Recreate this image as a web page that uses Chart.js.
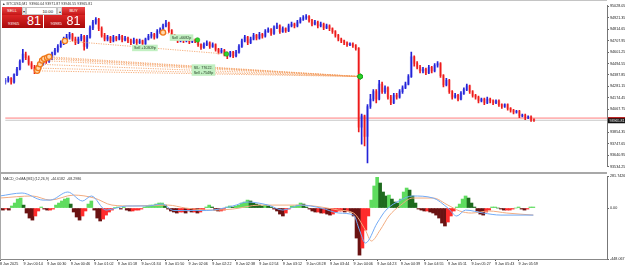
<!DOCTYPE html>
<html><head><meta charset="utf-8">
<script src="https://cdn.jsdelivr.net/npm/chart.js@4.4.1/dist/chart.umd.min.js"></script>
<style>
html,body{margin:0;padding:0;background:#fff;width:625px;height:268px;overflow:hidden;font-family:"Liberation Sans",Arial,sans-serif;}
#wrap{position:relative;width:625px;height:268px;}
canvas{position:absolute;left:0;}
.ln{position:absolute;z-index:3;}
.otp{position:absolute;left:2px;top:7px;width:83px;height:21px;z-index:6;}
.b{position:absolute;box-sizing:border-box;overflow:hidden;white-space:nowrap;}
.red1{background:linear-gradient(#ee4848,#c41616);color:#fff;font-size:4px;line-height:8px;text-align:center;}
.gr{background:#eeeeee;border:0.5px solid #c4c4c4;color:#333;font-size:4px;line-height:7px;text-align:center;}
.red2{background:linear-gradient(#dc2626,#a80a0a);}
.sm{position:absolute;font-size:4px;color:#fff;top:6px;}
.bg{position:absolute;font-size:12.5px;color:#fff;top:0px;line-height:13px;}
</style></head><body>
<div id="wrap">
<canvas id="main" width="625" height="172" style="top:0"></canvas>
<canvas id="macd" width="625" height="94" style="top:174px"></canvas>
<div class="ln" style="left:0;top:0;width:607px;height:1px;background:#c4c4c4"></div>
<div class="ln" style="left:0;top:0;width:1px;height:260px;background:#a8a8a8"></div>
<div class="ln" style="left:0;top:172px;width:607px;height:2px;background:#a8a8a8"></div>
<div class="otp">
  <div class="b red1" style="left:0;top:0;width:20px;height:8px">SELL</div>
  <div class="b gr" style="left:20px;top:0;width:4px;height:8px">▾</div>
  <div class="b" style="left:24px;top:0;width:31px;height:8px;background:#fff;border:0.5px solid #c4c4c4;font-size:4.2px;line-height:7px;text-align:right;padding-right:3px;color:#111">10.00</div>
  <div class="b gr" style="left:55px;top:0;width:5px;height:8px">▴</div>
  <div class="b red1" style="left:60px;top:0;width:23px;height:8px">BUY</div>
  <div class="b red2" style="left:0;top:8px;width:41px;height:13px"><span class="sm" style="left:6px">93965</span><span class="bg" style="left:25px">81</span></div>
  <div class="b red2" style="left:41.5px;top:8px;width:41.5px;height:13px"><span class="sm" style="left:7px">93985</span><span class="bg" style="left:23px">81</span></div>
</div>
</div>
<script>
const timeLabels = ["8 Jan 2025","9 Jan 00:14","9 Jan 00:30","9 Jan 00:46","9 Jan 01:02","9 Jan 01:18","9 Jan 01:34","9 Jan 01:50","9 Jan 02:06","9 Jan 02:22","9 Jan 02:38","9 Jan 02:54","9 Jan 03:12","9 Jan 03:28","9 Jan 03:44","9 Jan 04:06","9 Jan 04:23","9 Jan 04:39","9 Jan 04:55","9 Jan 05:11","9 Jan 05:27","9 Jan 05:43","9 Jan 05:59"];
const priceTicks = [95028.05,94921.35,94814.65,94707.95,94601.25,94494.55,94387.85,94281.15,94174.45,94067.75,93961.05,93854.35,93747.65,93640.95,93534.25];
const macdTicks = [281.7426, 0, -448.067];
const macdTickText = ["281.7426","0.00","-448.067"];
const headerText = "BTCUSD,M1  93960.04 93971.87 93946.55 93965.81";
const macdTitle = "MACD_OsMA [M1] (12,26,9)  -44.6182  -68.2986";
const bidPrice = 93965.81, askPrice = 93985.81;

const opens = [94321,94338,94356,94321,94391,94443,94513,94583,94548,94495,
 94460,94426,94460,94495,94530,94513,94548,94583,94618,94653,
 94688,94722,94740,94766,94722,94688,94722,94749,94653,94740,
 94827,94880,94906,94819,94757,94722,94740,94705,94740,94722,
 94749,94714,94731,94705,94688,94714,94688,94705,94679,94722,
 94749,94766,94740,94792,94810,94845,94871,94801,94749,94731,
 94705,94722,94705,94722,94696,94714,94705,94670,94644,94670,
 94688,94653,94670,94626,94600,94618,94583,94565,94600,94565,
 94600,94653,94705,94740,94688,94722,94757,94731,94766,94749,
 94792,94810,94775,94827,94845,94792,94819,94801,94845,94862,
 94845,94880,94906,94923,94932,94897,94862,94880,94845,94862,
 94827,94845,94819,94792,94757,94722,94705,94688,94670,94679,
 94661,94635,93901,94006,93814,94094,94163,94233,94163,94303,
 94233,94268,94181,94128,94198,94181,94233,94268,94303,94373,
 94557,94495,94460,94426,94443,94408,94460,94426,94478,94495,
 94382,94294,94338,94233,94181,94198,94163,94216,94251,94286,
 94233,94198,94181,94146,94163,94128,94163,94146,94128,94146,
 94111,94094,94111,94076,94059,94041,94050,94006,94015,93989,
 93997,93971];
const highs = [94356,94373,94364,94399,94460,94530,94626,94600,94565,94513,
 94478,94478,94513,94548,94548,94565,94600,94635,94670,94705,
 94740,94766,94784,94775,94740,94740,94766,94757,94757,94845,
 94897,94923,94915,94836,94775,94757,94749,94757,94749,94766,
 94757,94749,94740,94722,94731,94722,94722,94714,94731,94766,
 94784,94775,94810,94827,94862,94897,94880,94810,94766,94740,
 94731,94731,94740,94731,94722,94722,94714,94679,94688,94705,
 94696,94688,94679,94635,94635,94626,94600,94609,94609,94618,
 94670,94722,94757,94749,94740,94775,94766,94784,94775,94810,
 94827,94819,94845,94871,94854,94836,94827,94862,94880,94871,
 94897,94923,94941,94950,94941,94906,94897,94889,94880,94871,
 94862,94854,94827,94801,94766,94731,94714,94696,94688,94688,
 94670,94644,94024,94015,94111,94207,94251,94251,94338,94321,
 94286,94277,94198,94216,94216,94251,94286,94321,94391,94600,
 94565,94513,94478,94460,94452,94478,94469,94495,94513,94504,
 94391,94356,94347,94242,94216,94207,94233,94268,94303,94294,
 94242,94207,94190,94172,94172,94181,94172,94155,94155,94155,
 94120,94120,94120,94085,94067,94059,94059,94024,94024,94006,
 94006,93980];
const lows = [94303,94321,94303,94312,94382,94434,94504,94530,94478,94443,
 94399,94408,94452,94478,94495,94504,94530,94574,94600,94644,
 94670,94705,94722,94705,94670,94679,94705,94618,94635,94731,
 94810,94862,94801,94740,94705,94705,94688,94696,94705,94714,
 94696,94705,94688,94670,94679,94670,94679,94661,94670,94714,
 94731,94722,94731,94775,94801,94836,94784,94731,94714,94688,
 94696,94688,94696,94679,94688,94688,94653,94626,94635,94661,
 94635,94644,94609,94583,94591,94565,94539,94557,94548,94557,
 94591,94644,94696,94670,94679,94714,94714,94722,94731,94740,
 94784,94757,94766,94819,94775,94784,94784,94792,94836,94827,
 94836,94871,94897,94906,94880,94845,94854,94827,94836,94810,
 94819,94801,94775,94740,94705,94688,94670,94653,94661,94644,
 94618,93858,93744,93727,93569,94076,94146,94128,94155,94216,
 94216,94163,94111,94120,94163,94172,94216,94259,94294,94364,
 94469,94443,94408,94408,94391,94399,94408,94417,94460,94364,
 94277,94286,94216,94163,94172,94146,94155,94207,94242,94216,
 94181,94163,94128,94137,94111,94120,94128,94111,94120,94094,
 94076,94085,94059,94041,94024,94032,93989,93997,93971,93980,
 93954,93954];
const closes = [94338,94356,94321,94391,94443,94513,94583,94548,94495,94460,
 94426,94460,94495,94530,94513,94548,94583,94618,94653,94688,
 94722,94740,94766,94722,94688,94722,94749,94653,94740,94827,
 94880,94906,94819,94757,94722,94740,94705,94740,94722,94749,
 94714,94731,94705,94688,94714,94688,94705,94679,94722,94749,
 94766,94740,94792,94810,94845,94871,94801,94749,94731,94705,
 94722,94705,94722,94696,94714,94705,94670,94644,94670,94688,
 94653,94670,94626,94600,94618,94583,94565,94600,94565,94600,
 94653,94705,94740,94688,94722,94757,94731,94766,94749,94792,
 94810,94775,94827,94845,94792,94819,94801,94845,94862,94845,
 94880,94906,94923,94932,94897,94862,94880,94845,94862,94827,
 94845,94819,94792,94757,94722,94705,94688,94670,94679,94661,
 94635,93901,94006,93814,94094,94163,94233,94163,94303,94233,
 94268,94181,94128,94198,94181,94233,94268,94303,94373,94557,
 94495,94460,94426,94443,94408,94460,94426,94478,94495,94382,
 94294,94338,94233,94181,94198,94163,94216,94251,94286,94233,
 94198,94181,94146,94163,94128,94163,94146,94128,94146,94111,
 94094,94111,94076,94059,94041,94050,94006,94015,93989,93997,
 93971,93966];

const histValues = [-9,-18,-9,-18,18,44,79,88,26,-44,
 -88,-106,-70,-26,9,-9,-18,-18,-9,26,
 44,62,79,88,35,-35,-79,-106,-70,-26,
 35,62,-18,-88,-114,-97,-62,-35,-18,5,
 9,-9,9,-18,-26,-26,-18,-18,-9,9,
 18,26,26,35,44,44,26,-9,-26,-35,
 -44,-35,-35,-44,-26,-35,-35,-44,-35,-18,
 9,26,9,-18,-26,-26,-18,9,18,9,
 18,26,44,53,70,62,44,35,26,18,
 26,18,9,-9,-26,-53,-70,-44,-9,18,
 18,26,44,35,9,-9,-26,-35,-35,-44,
 -44,-53,-62,-53,-35,-26,-26,-35,-26,-35,
 -70,-264,-414,-352,-194,-70,70,194,270,220,
 141,106,114,79,53,44,79,141,176,158,
 106,44,-9,-18,-26,-26,-35,-44,-62,-88,
 -132,-158,-123,-70,-26,9,35,79,106,88,
 44,9,-26,-53,-62,-35,-18,9,9,0,
 -9,-18,-18,-18,-9,0,9,-9,-18,-9,
 9,9];
const macdX = [0,7.5,14.6,17,23,28,31,36,43,50,55,59,70,79,84,91,96,102,109,115,120,122,124,128,131,136,140,147,152,155,158,164,170,181];
const macdY = [106,132,70,70,141,62,106,-18,18,18,35,-22,-22,18,53,26,-18,26,0,-44,-62,-194,-308,-132,-18,70,106,88,0,-70,-18,-44,-62,-62];
const signalX = [0,11,17,25,32,38,45,57,63,72,79,88,102,109,115,120,124,126,129,132,136,140,147,152,156,160,166,172,181];
const signalY = [88,106,70,114,88,26,18,26,0,-18,-9,26,26,9,-18,-44,-194,-290,-194,-70,26,88,88,26,-26,-44,-26,-44,-62];

const tradeEntryIdx = [10.9,11.3,11.9,12.6,13.3,14.3,15.0,20.4,54.0];
const tradeEntryPrice = [94426,94452,94487,94522,94539,94548,94557,94705,94784];
const tradeExitIdx = [121.5,121.5,121.5,121.5,121.5,121.5,121.5,75.7,65.8];
const tradeExitPrice = [94373,94373,94373,94373,94373,94373,94373,94583,94714];
const tradeLabelIdx = [43.4,56.3,63.8];
const tradeLabelPrice = [94670,94766,94487];
const tradeLabelText = [["Sell +10309p"],["Sell +6682p"],["S/L: 77622.","Sell +7548p"]];

const X_MAX = 206;
const FONT = "Liberation Sans";
const idx = closes.map((_, i) => i);
const isBull = i => closes[i] >= opens[i];

const mainOverlay = {
  id: 'mainOverlay',
  beforeDatasetsDraw(chart) {
    const {ctx, chartArea: a, scales: {y}} = chart;
    ctx.save();
    const ya = y.getPixelForValue(askPrice), yb = y.getPixelForValue(bidPrice);
    ctx.strokeStyle = '#ffb4b4'; ctx.lineWidth = 1.6;
    ctx.beginPath(); ctx.moveTo(a.left, ya); ctx.lineTo(a.right, ya); ctx.stroke();
    ctx.strokeStyle = '#c8c8c8'; ctx.lineWidth = 1;
    ctx.beginPath(); ctx.moveTo(a.left, yb); ctx.lineTo(a.right, yb); ctx.stroke();
    ctx.restore();
  },
  afterDatasetsDraw(chart) {
    const {ctx, scales: {x, y}} = chart;
    ctx.save();
    ctx.font = `3.7px "${FONT}"`;
    ctx.textBaseline = 'middle';
    tradeLabelText.forEach((lines, k) => {
      const px = x.getPixelForValue(tradeLabelIdx[k]);
      const py = y.getPixelForValue(tradeLabelPrice[k]);
      const w = Math.max(...lines.map(t => ctx.measureText(t).width)) + 4;
      const h = lines.length * 5 + 1.5;
      ctx.fillStyle = '#c2f0c2';
      ctx.fillRect(px, py, w, h);
      ctx.fillStyle = '#1f3a1f';
      lines.forEach((t, j) => ctx.fillText(t, px + 2, py + 3.3 + j * 5));
    });
    ctx.fillStyle = '#333';
    ctx.font = `3.6px "${FONT}"`;
    ctx.fillText('▲ ' + headerText, 2, 3.5);
    ctx.restore();
  },
  afterDraw(chart) {
    const {ctx, chartArea: a, scales: {y}} = chart;
    const yb = y.getPixelForValue(bidPrice);
    ctx.save();
    ctx.fillStyle = '#111';
    ctx.fillRect(a.right + 1, yb - 3, 18, 6);
    ctx.fillStyle = '#e01818';
    ctx.fillRect(a.right + 1, yb - 3, 18, 1);
    ctx.fillStyle = '#fff';
    ctx.font = `3.6px "${FONT}"`;
    ctx.textBaseline = 'middle';
    ctx.fillText(bidPrice.toFixed(2), a.right + 2.5, yb + 0.5);
    ctx.restore();
  }
};

const tradeLines = tradeEntryIdx.map((ex, k) => ({
  type: 'line',
  data: [{x: ex, y: tradeEntryPrice[k]}, {x: tradeExitIdx[k], y: tradeExitPrice[k]}],
  borderColor: '#f29a5c', borderWidth: 0.8, borderDash: [1.2, 1.2], pointRadius: 0, order: 1
}));

new Chart(document.getElementById('main'), {
  type: 'bar',
  data: {
    datasets: [
      {type: 'line', data: tradeEntryIdx.map((ex, k) => ({x: ex, y: tradeEntryPrice[k]})), showLine: false,
       pointRadius: 2.6, pointBorderWidth: 1.3, pointBackgroundColor: '#ffd9ad', pointBorderColor: '#f07818', order: 0},
      {type: 'line', data: tradeExitIdx.map((ex, k) => ({x: ex, y: tradeExitPrice[k]})), showLine: false,
       pointRadius: 2.3, pointBorderWidth: 0.6, pointBackgroundColor: '#2bd42b', pointBorderColor: '#1a9e1a', order: 0},
      ...tradeLines,
      {type: 'bar', data: idx.map(i => ({x: i, y: [lows[i], highs[i]]})), barThickness: 1, grouped: false,
       backgroundColor: idx.map(i => isBull(i) ? '#2323d8' : '#ec1a1a'), order: 2},
      {type: 'bar', data: idx.map(i => ({x: i, y: [opens[i], closes[i]]})), barThickness: 2.2, grouped: false,
       backgroundColor: idx.map(i => isBull(i) ? 'rgba(90,90,235,0.42)' : 'rgba(255,90,90,0.4)'), order: 3}
    ]
  },
  options: {
    responsive: false, animation: false, devicePixelRatio: 1, events: [],
    layout: {padding: 0},
    plugins: {legend: {display: false}, tooltip: {enabled: false}},
    scales: {
      x: {type: 'linear', min: 0, max: X_MAX, display: false, offset: false, grid: {offset: false}},
      y: {
        position: 'right', min: 93533, max: 95037,
        afterBuildTicks: s => { s.ticks = priceTicks.map(v => ({value: v})); },
        afterFit: s => { s.width = 18; s.paddingTop = 0; s.paddingBottom = 0; },
        ticks: {font: {size: 3.7, family: FONT}, color: '#222', padding: 1, callback: v => Number(v).toFixed(2)},
        grid: {drawOnChartArea: false, tickLength: 2, tickColor: '#666'},
        border: {display: true, color: '#777', width: 1}
      }
    }
  },
  plugins: [mainOverlay]
});

const histColors = histValues.map((v, i) => {
  const prev = i > 0 ? histValues[i - 1] : 0;
  const up = v >= prev;
  if (v >= 0) return up ? '#5fdc5f' : '#1e6a1e';
  return up ? '#ff2b2b' : '#6a1212';
});

const macdOverlay = {
  id: 'macdOverlay',
  afterDraw(chart) {
    const {ctx, chartArea: a} = chart;
    ctx.save();
    ctx.font = `3.6px "${FONT}"`;
    ctx.fillStyle = '#333';
    ctx.textBaseline = 'middle';
    ctx.fillText(macdTitle, a.left + 3, a.top + 2.5);
    ctx.restore();
  }
};

new Chart(document.getElementById('macd'), {
  type: 'bar',
  data: {
    datasets: [
      {type: 'line', data: macdX.map((vx, k) => ({x: vx, y: macdY[k]})), borderColor: '#72aaf5', borderWidth: 1,
       pointRadius: 0, cubicInterpolationMode: 'monotone', order: 0},
      {type: 'line', data: signalX.map((vx, k) => ({x: vx, y: signalY[k]})), borderColor: '#f2ac80', borderWidth: 1,
       pointRadius: 0, cubicInterpolationMode: 'monotone', order: 1},
      {type: 'bar', data: histValues.map((v, i) => ({x: i, y: v})), barThickness: 3, grouped: false,
       backgroundColor: histColors, order: 2}
    ]
  },
  options: {
    responsive: false, animation: false, devicePixelRatio: 1, events: [],
    layout: {padding: {top: 2}},
    plugins: {legend: {display: false}, tooltip: {enabled: false}},
    scales: {
      x: {
        type: 'linear', min: 0, max: X_MAX, offset: false, position: 'bottom',
        afterBuildTicks: s => { s.ticks = timeLabels.map((_, k) => ({value: k * 8})); },
        afterFit: s => { s.height = 9; s.paddingLeft = 0; s.paddingRight = 0; },
        ticks: {autoSkip: false, maxRotation: 0, minRotation: 0, align: 'start', padding: 1,
                font: {size: 3.7, family: FONT}, color: '#222', callback: (v, i) => timeLabels[i]},
        grid: {drawOnChartArea: false, tickLength: 2, tickColor: '#555', offset: false},
        border: {display: true, color: '#888', width: 1}
      },
      y: {
        position: 'right', min: -448.067, max: 281.7426,
        afterBuildTicks: s => { s.ticks = macdTicks.map(v => ({value: v})); },
        afterFit: s => { s.width = 18; s.paddingTop = 0; s.paddingBottom = 0; },
        ticks: {font: {size: 3.7, family: FONT}, color: '#222', padding: 1, callback: (v, i) => macdTickText[i]},
        grid: {drawOnChartArea: false, tickLength: 2, tickColor: '#666'},
        border: {display: true, color: '#777', width: 1}
      }
    }
  },
  plugins: [macdOverlay]
});
</script>
</body></html>
